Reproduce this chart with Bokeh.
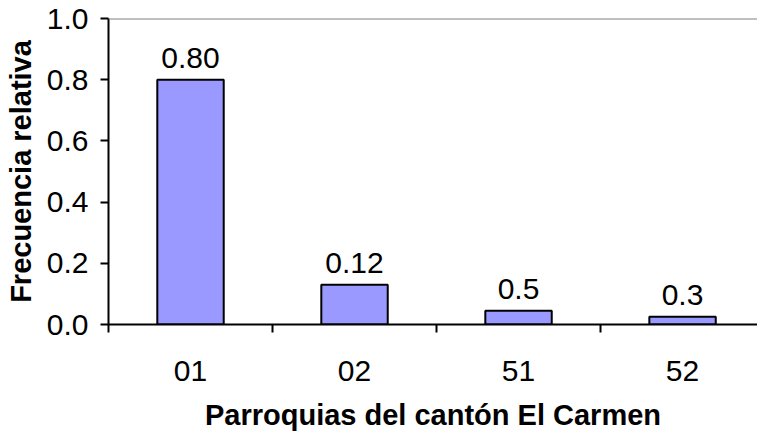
from bokeh.plotting import figure
from bokeh.models import Range1d, FixedTicker, PrintfTickFormatter, Span, LabelSet, ColumnDataSource
from bokeh.core.properties import value
from bokeh.embed import file_html
from bokeh.resources import INLINE

categories = ["01", "02", "51", "52"]
values = [0.80, 0.13, 0.045, 0.025]
bar_labels = ["0.80", "0.12", "0.5", "0.3"]
y_ticks = [0.0, 0.2, 0.4, 0.6, 0.8, 1.0]
x_title = "Parroquias del cantón El Carmen"
y_title = "Frecuencia relativa"

FONT = "Liberation Sans"

xs = list(range(len(categories)))
src = ColumnDataSource(dict(x=xs, top=values, lab=bar_labels))

p = figure(width=757, height=436, output_backend="svg", toolbar_location=None,
           x_range=Range1d(-0.5, 3.457), y_range=Range1d(0, 1.0),
           min_border_left=108, min_border_right=0, min_border_top=18, min_border_bottom=112)
p.outline_line_color = None
p.xgrid.grid_line_color = None
p.ygrid.grid_line_color = None
p.background_fill_color = "white"
p.border_fill_color = "white"

p.vbar(x="x", top="top", width=0.405, bottom=0, source=src,
       fill_color="#9999FF", line_color="black", line_width=2)

p.add_layout(LabelSet(x="x", y="top", text="lab", source=src, text_align="center",
                      text_baseline="alphabetic", y_offset=12, text_font_size="30px",
                      text_font=value(FONT), text_color="black"))

p.add_layout(Span(location=1.0, dimension="width", line_color="#808080", line_width=2))

# x axis
xa = p.xaxis[0]
xa.ticker = FixedTicker(ticks=xs, minor_ticks=[-0.5, 0.5, 1.5, 2.5])
xa.major_label_overrides = {i: c for i, c in enumerate(categories)}
xa.major_tick_line_color = None
xa.major_tick_out = 0
xa.major_tick_in = 0
xa.minor_tick_out = 8
xa.minor_tick_in = 0
xa.minor_tick_line_width = 2
xa.minor_tick_line_color = "black"
xa.axis_line_width = 2
xa.axis_line_color = "black"
xa.major_label_standoff = 28
xa.major_label_text_font = FONT
xa.major_label_text_font_size = "30px"
xa.major_label_text_color = "black"
xa.axis_label = x_title
xa.axis_label_text_font = FONT
xa.axis_label_text_font_style = "bold"
xa.axis_label_text_font_size = "29px"
xa.axis_label_standoff = 15
xa.axis_label_text_color = "black"

# y axis
ya = p.yaxis[0]
ya.ticker = FixedTicker(ticks=y_ticks)
ya.formatter = PrintfTickFormatter(format="%.1f")
ya.major_tick_out = 8
ya.major_tick_in = 0
ya.major_tick_line_width = 2
ya.minor_tick_line_color = None
ya.axis_line_width = 2
ya.axis_line_color = "black"
ya.major_label_standoff = 12
ya.major_label_text_font = FONT
ya.major_label_text_font_size = "30px"
ya.major_label_text_color = "black"
ya.axis_label = y_title
ya.axis_label_text_font = FONT
ya.axis_label_text_font_style = "bold"
ya.axis_label_text_font_size = "29px"
ya.axis_label_standoff = 7
ya.axis_label_text_color = "black"

open("out.html", "w").write(file_html(p, INLINE))
